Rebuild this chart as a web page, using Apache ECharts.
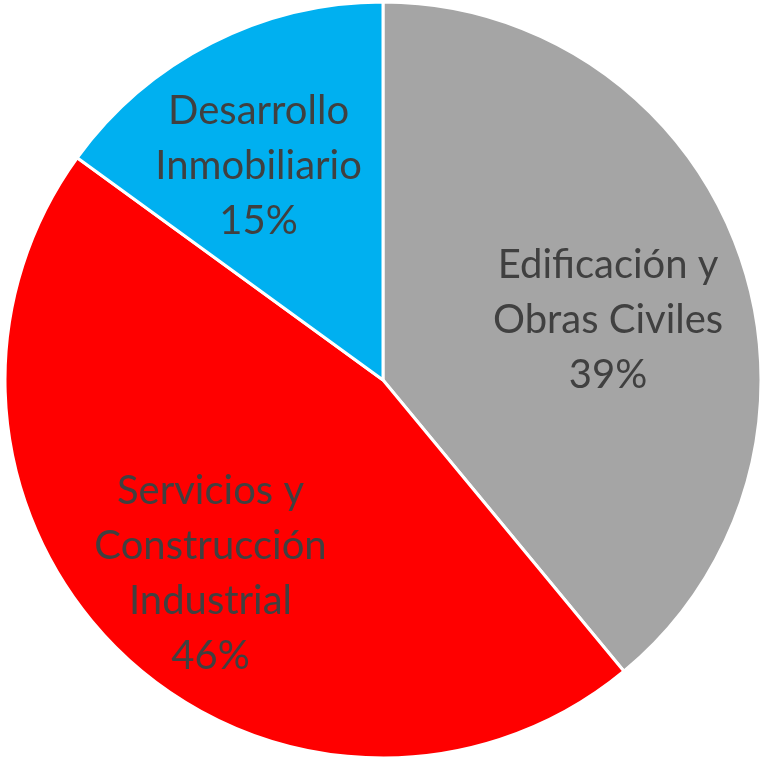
<!DOCTYPE html>
<html lang="es">
    <head>
        <meta charset="UTF-8" />
        <title>Distribución por área de negocio</title>
        <script src="https://cdn.jsdelivr.net/npm/echarts@6/dist/echarts.min.js"></script>
        <style>
            html, body { margin: 0; padding: 0; background: #fff; }
            #chart { width: 766px; height: 761px; }
        </style>
    </head>
    <body>
        <div id="chart"></div>
        <script>
            // data
            const categories = ["Edificación y\nObras Civiles", "Servicios y\nConstrucción\nIndustrial", "Desarrollo\nInmobiliario"];
            const shares = [39, 46, 15];
            const colors = ["#A5A5A5", "#FF0000", "#00B0F0"];
            // small nudges so labels sit where the original put them
            const labelOffsets = [[-12, 25], [0, 10], [-10, 11]];

            const chart = echarts.init(document.getElementById("chart"));

            const labelFont = {
                color: "#404040",
                fontFamily: "Lato, 'Open Sans', sans-serif",
                fontSize: 40,
                lineHeight: 55,
            };

            chart.setOption({
                animation: false,
                series: [
                    {
                        // the slices
                        type: "pie",
                        center: [383, 380],
                        radius: [0, 378],
                        startAngle: 90,
                        clockwise: true,
                        silent: true,
                        label: { show: false },
                        labelLine: { show: false },
                        itemStyle: { borderColor: "#fff", borderWidth: 3 },
                        data: categories.map((name, i) => ({
                            name: name,
                            value: shares[i],
                            itemStyle: { color: colors[i] },
                        })),
                    },
                    {
                        // invisible ring that carries the labels further out
                        type: "pie",
                        center: [383, 380],
                        radius: [120, 378],
                        startAngle: 90,
                        clockwise: true,
                        silent: true,
                        itemStyle: { color: "transparent" },
                        label: Object.assign({
                            show: true,
                            position: "inside",
                            formatter: p => p.name + "\n" + p.value + "%",
                        }, labelFont),
                        labelLine: { show: false },
                        data: categories.map((name, i) => ({
                            name: name,
                            value: shares[i],
                            label: { offset: labelOffsets[i] },
                        })),
                    },
                ],
            });
        </script>
    </body>
</html>
